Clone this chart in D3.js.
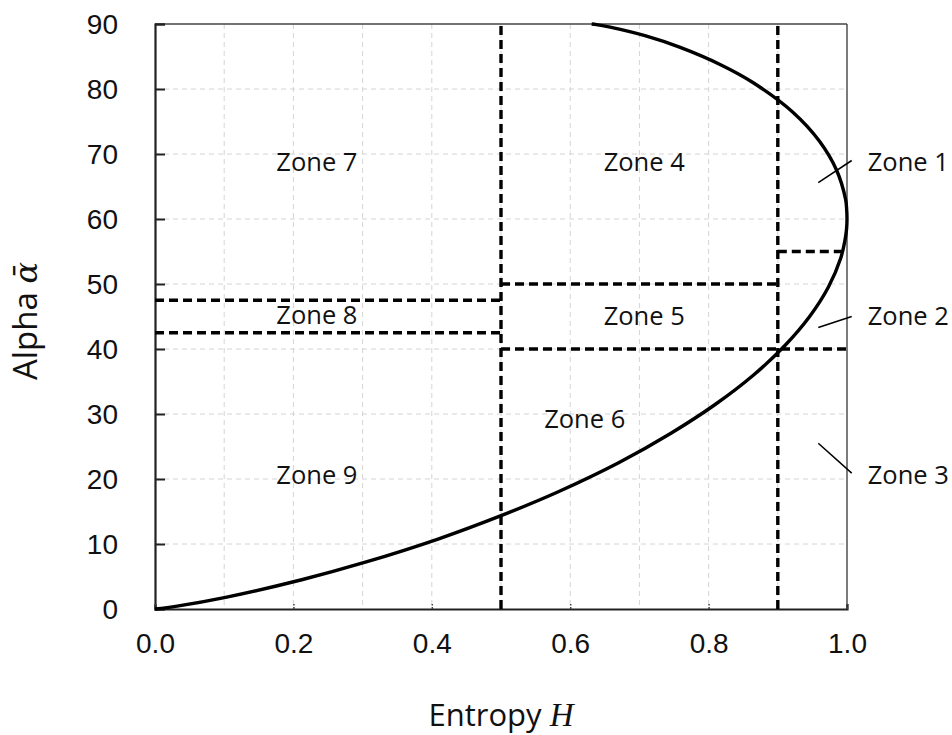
<!DOCTYPE html>
<html>
<head>
<meta charset="utf-8">
<script src="https://cdn.jsdelivr.net/npm/d3@7"></script>
<style>
  html, body { margin: 0; padding: 0; background: #fff; }
  svg { display: block; }
</style>
</head>
<body>
<script>
// ---- data ----
const curveH = [0, 0.032, 0.102, 0.212, 0.304, 0.410, 0.501, 0.582, 0.670, 0.745, 0.810, 0.865, 0.910, 0.946, 0.973, 0.991, 0.997, 0.9994, 1.0, 0.9995, 0.998, 0.985, 0.960, 0.921, 0.864, 0.818, 0.759, 0.708, 0.656, 0.638, 0.631];
const curveAlpha = [0, 0.45, 1.8, 4.5, 7.2, 10.8, 14.4, 18, 22.5, 27, 31.5, 36, 40.5, 45, 49.5, 54, 56.7, 58.5, 60, 61.5, 63, 67.5, 72, 76.5, 81, 83.7, 86.4, 88.2, 89.55, 89.91, 90];

const xTicks = [0, 0.2, 0.4, 0.6, 0.8, 1.0];
const xGrid = [0.1, 0.2, 0.3, 0.4, 0.5, 0.6, 0.7, 0.8, 0.9];
const yTicks = [0, 10, 20, 30, 40, 50, 60, 70, 80, 90];
const yGrid = [10, 20, 30, 40, 50, 60, 70, 80];

const vLineH = [0.5, 0.9];
const hLineAlpha = [47.5, 42.5, 50, 40, 55];
const hLineFrom = [0, 0, 0.5, 0.5, 0.9];
const hLineTo = [0.5, 0.5, 0.9, 1.0, 1.0];

const zoneNames = ["Zone 7", "Zone 4", "Zone 1", "Zone 8", "Zone 5", "Zone 2", "Zone 6", "Zone 9", "Zone 3"];
const zoneH = [0.234, 0.707, 1.030, 0.234, 0.707, 1.030, 0.621, 0.234, 1.030];
const zoneAlpha = [67.4, 67.4, 67.4, 43.8, 43.7, 43.7, 27.8, 19.2, 19.3];
const zoneOutside = [false, false, true, false, false, true, false, false, true];

const leaderH1 = [0.9585, 0.9585, 0.9585];
const leaderA1 = [65.6, 43.3, 25.5];
const leaderH2 = [1.0068, 1.0068, 1.0068];
const leaderA2 = [69.0, 45.0, 20.9];

// ---- layout ----
const W = 952, H = 735;
const L = 155, R = 847, T = 24, B = 609;

const svg = d3.select("body").append("svg").attr("width", W).attr("height", H);
svg.append("rect").attr("width", W).attr("height", H).attr("fill", "#fff");

const x = d3.scaleLinear().domain([0, 1]).range([L, R]);
const y = d3.scaleLinear().domain([0, 90]).range([B, T]);

// gridlines
svg.append("g").selectAll("line").data(xGrid).join("line")
  .attr("x1", d => x(d)).attr("x2", d => x(d)).attr("y1", T).attr("y2", B)
  .attr("stroke", "#d4d4d4").attr("stroke-width", 1).attr("stroke-dasharray", "5,4");
svg.append("g").selectAll("line").data(yGrid).join("line")
  .attr("x1", L).attr("x2", R).attr("y1", d => y(d)).attr("y2", d => y(d))
  .attr("stroke", "#d4d4d4").attr("stroke-width", 1).attr("stroke-dasharray", "5,4");

// frame (top/right)
svg.append("line").attr("x1", L).attr("x2", R).attr("y1", T).attr("y2", T)
  .attr("stroke", "#444").attr("stroke-width", 1.6);
svg.append("line").attr("x1", R).attr("x2", R).attr("y1", T).attr("y2", B)
  .attr("stroke", "#444").attr("stroke-width", 1.4);

// axes
const yAxis = d3.axisLeft(y).tickValues(yTicks).tickSize(-10).tickPadding(46).tickFormat(d3.format("d"));
const gy = svg.append("g").attr("transform", `translate(${L},0)`).call(yAxis);
gy.select(".domain").attr("stroke", "#222").attr("stroke-width", 2.2);
gy.selectAll(".tick line").attr("stroke", "#222").attr("stroke-width", 2);
gy.selectAll(".tick text").attr("font-family", "'Liberation Sans', Arial, sans-serif")
  .attr("font-size", 28).attr("fill", "#111").attr("x", 118 - L).attr("dy", "0.35em");

const xAxis = d3.axisBottom(x).tickValues(xTicks).tickSize(-5).tickPadding(0).tickFormat(d3.format(".1f"));
const gx = svg.append("g").attr("transform", `translate(0,${B})`).call(xAxis);
gx.select(".domain").attr("stroke", "#222").attr("stroke-width", 2.2);
gx.selectAll(".tick line").attr("stroke", "#444").attr("stroke-width", 1.5).attr("stroke-dasharray", "2,1.5");
gx.selectAll(".tick text").attr("font-family", "'Liberation Sans', Arial, sans-serif")
  .attr("font-size", 28).attr("fill", "#111").attr("y", 44).attr("dy", 0);

// dashed zone boundaries
svg.append("g").selectAll("line").data(vLineH).join("line")
  .attr("x1", d => x(d)).attr("x2", d => x(d)).attr("y1", y(0)).attr("y2", y(90))
  .attr("stroke", "#000").attr("stroke-width", 3.4).attr("stroke-dasharray", "9,5");
svg.append("g").selectAll("line").data(hLineAlpha).join("line")
  .attr("x1", (d, i) => x(hLineFrom[i])).attr("x2", (d, i) => x(hLineTo[i]))
  .attr("y1", d => y(d)).attr("y2", d => y(d))
  .attr("stroke", "#000").attr("stroke-width", 3.4).attr("stroke-dasharray", "9,5");

// boundary curve
const pts = curveH.map((h, i) => [h, curveAlpha[i]]);
const line = d3.line().x(d => x(d[0])).y(d => y(d[1])).curve(d3.curveCatmullRom.alpha(0.5));
svg.append("path").attr("d", line(pts)).attr("fill", "none")
  .attr("stroke", "#000").attr("stroke-width", 3.4).attr("stroke-linejoin", "round");

// leader lines
svg.append("g").selectAll("line").data(leaderH1).join("line")
  .attr("x1", d => x(d)).attr("y1", (d, i) => y(leaderA1[i]))
  .attr("x2", (d, i) => x(leaderH2[i])).attr("y2", (d, i) => y(leaderA2[i]))
  .attr("stroke", "#000").attr("stroke-width", 1.5);

// zone labels
svg.append("g").selectAll("text").data(zoneNames).join("text")
  .attr("x", (d, i) => x(zoneH[i])).attr("y", (d, i) => y(zoneAlpha[i]))
  .attr("text-anchor", (d, i) => zoneOutside[i] ? "start" : "middle")
  .attr("font-family", "'Open Sans', sans-serif").attr("font-size", 25.5).attr("fill", "#111")
  .text(d => d);

// axis titles
const xt = svg.append("text").attr("x", (L + R) / 2).attr("y", 726).attr("text-anchor", "middle")
  .attr("font-family", "'Open Sans', sans-serif").attr("font-size", 31).attr("fill", "#111");
xt.append("tspan").text("Entropy ");
xt.append("tspan").attr("font-family", "'Liberation Serif', 'DejaVu Serif', serif").attr("font-style", "italic")
  .attr("font-size", 33).text("H");

const yt = svg.append("text").attr("transform", `translate(37,321) rotate(-90)`).attr("text-anchor", "middle")
  .attr("font-family", "'Open Sans', sans-serif").attr("font-size", 33).attr("fill", "#111");
yt.append("tspan").text("Alpha ");
yt.append("tspan").attr("font-family", "'DejaVu Serif', serif").attr("font-style", "italic")
  .attr("font-size", 32).text("\u03B1\u0304");
</script>
</body>
</html>
